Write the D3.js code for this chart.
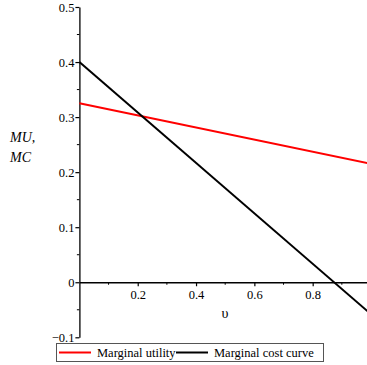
<!DOCTYPE html>
<html>
<head>
<meta charset="utf-8">
<script src="https://cdn.jsdelivr.net/npm/d3@7"></script>
<style>
  body { margin: 0; background: #fff; }
</style>
</head>
<body>
<script>
// data
var v = [0, 1];
var utility = [0.325, 0.215];
var cost = [0.4, -0.058];
var xTicks = [0.2, 0.4, 0.6, 0.8];
var yTicks = [-0.1, 0, 0.1, 0.2, 0.3, 0.4, 0.5];
var legendNames = ["Marginal utility", "Marginal cost curve"];
var colors = ["#ff0000", "#000000"];

var serif = "'Liberation Serif'";

var svg = d3.select("body")
  .append("svg")
  .attr("width", 367)
  .attr("height", 365);

var x = d3.scaleLinear().domain([0, 1]).range([79.4, 371]);
var y = d3.scaleLinear().domain([-0.1, 0.5]).range([337.3, 7]);

svg.append("clipPath").attr("id", "clip")
  .append("rect")
  .attr("x", 79).attr("y", 0)
  .attr("width", 288).attr("height", 340);

// y axis
var yAxis = svg.append("g")
  .attr("transform", "translate(" + x(0) + ",0)")
  .call(d3.axisLeft(y).tickValues(yTicks).tickSize(4).tickSizeOuter(0)
    .tickFormat(function(d) { return d === 0 ? "0" : (d < 0 ? "\u2212" + Math.abs(d) : d); }));
yAxis.select(".domain").attr("stroke", "#000").attr("stroke-width", 1.3);
yAxis.selectAll(".tick line").attr("stroke-width", 1.2);
yAxis.selectAll(".tick text").attr("font-size", 12.5).attr("x", -5)
  .style("font-family", serif);

// minor y ticks
svg.append("g").selectAll("line")
  .data([-0.05, 0.05, 0.15, 0.25, 0.35, 0.45])
  .join("line")
  .attr("x1", x(0) - 2.5).attr("x2", x(0))
  .attr("y1", function(d) { return y(d); })
  .attr("y2", function(d) { return y(d); })
  .attr("stroke", "#000");

// x axis
var xAxis = svg.append("g")
  .attr("transform", "translate(0," + y(0) + ")")
  .call(d3.axisBottom(x).tickValues(xTicks).tickSize(4).tickSizeOuter(0));
xAxis.select(".domain").attr("stroke", "#000").attr("stroke-width", 1.3);
xAxis.selectAll(".tick line").attr("stroke-width", 1.2);
xAxis.selectAll(".tick text").attr("font-size", 12.5).attr("y", 8)
  .style("font-family", serif);

svg.append("g").selectAll("line")
  .data([0.1, 0.3, 0.5, 0.7, 0.9])
  .join("line")
  .attr("x1", function(d) { return x(d); })
  .attr("x2", function(d) { return x(d); })
  .attr("y1", y(0)).attr("y2", y(0) + 2.5)
  .attr("stroke", "#000");

// axis labels
svg.append("text")
  .attr("x", 225).attr("y", 318)
  .attr("text-anchor", "middle")
  .attr("font-size", 14)
  .style("font-family", serif)
  .text("\u03c5");

var ylab = svg.append("text")
  .attr("font-size", 14).attr("font-style", "italic")
  .style("font-family", serif);
ylab.append("tspan").attr("x", 10).attr("y", 142).text("MU,");
ylab.append("tspan").attr("x", 10).attr("y", 162).text("MC");

// lines
var line = d3.line()
  .x(function(d) { return x(d[0]); })
  .y(function(d) { return y(d[1]); });

[utility, cost].forEach(function(s, i) {
  svg.append("path")
    .datum(d3.zip(v, s))
    .attr("clip-path", "url(#clip)")
    .attr("fill", "none")
    .attr("stroke", colors[i])
    .attr("stroke-width", 2)
    .attr("d", line);
});

// legend
var leg = svg.append("g");
leg.append("rect")
  .attr("x", 56.5).attr("y", 343.5)
  .attr("width", 267).attr("height", 18)
  .attr("fill", "#fff")
  .attr("stroke", "#555")
  .attr("stroke-width", 1);

var legX = [59, 176];
legendNames.forEach(function(n, i) {
  leg.append("line")
    .attr("x1", legX[i]).attr("x2", legX[i] + 32)
    .attr("y1", 352.5).attr("y2", 352.5)
    .attr("stroke", colors[i]).attr("stroke-width", 2);
  leg.append("text")
    .attr("x", legX[i] + 38).attr("y", 357)
    .attr("font-size", 12.5)
    .style("font-family", serif)
    .text(n);
});
</script>
</body>
</html>
